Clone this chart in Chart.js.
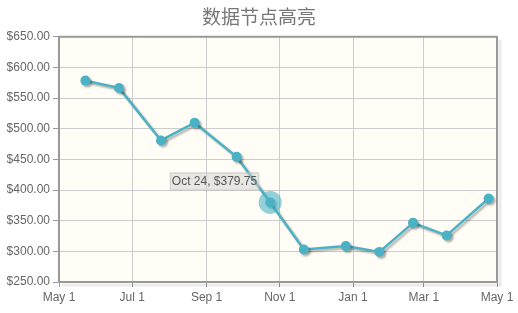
<!DOCTYPE html>
<html>
<head>
<meta charset="utf-8">
<script src="https://cdn.jsdelivr.net/npm/chart.js@4.4.1/dist/chart.umd.min.js"></script>
<style>
  html, body { margin: 0; padding: 0; background: #fff; }
  #wrap { width: 518px; height: 313px; }
</style>
</head>
<body>
<div id="wrap"><canvas id="myChart" width="518" height="313"></canvas></div>
<script>
// data
const dates = ['2008-05-23', '2008-06-20', '2008-07-25', '2008-08-22', '2008-09-26', '2008-10-24',
               '2008-11-21', '2008-12-26', '2009-01-23', '2009-02-20', '2009-03-20', '2009-04-24']
const prices = [578.55, 566.5, 480.88, 509.84, 454.13, 379.75, 303, 308.56, 299.14, 346.51, 325.99, 386.15]
const xTicks = ['2008-05-01', '2008-07-01', '2008-09-01', '2008-11-01', '2009-01-01', '2009-03-01', '2009-05-01']
const highlightIndex = 5

const months = ['Jan','Feb','Mar','Apr','May','Jun','Jul','Aug','Sep','Oct','Nov','Dec']
const toTime = s => Date.parse(s + 'T00:00:00Z')
const fmtDate = v => { const d = new Date(v); return months[d.getUTCMonth()] + ' ' + d.getUTCDate() }
const fmtPrice = v => '$' + v.toFixed(2)

const points = dates.map((d, i) => ({x: toTime(d), y: prices[i]}))
const tickFont = {family: '"Liberation Sans", Arial, sans-serif', size: 12}

// cream plot background + grey frame with a soft shadow
const frame = {
  id: 'frame',
  beforeDraw(chart) {
    const {ctx, chartArea: a} = chart
    ctx.save()
    ctx.fillStyle = '#fffdf6'
    ctx.fillRect(a.left, a.top, a.right - a.left, a.bottom - a.top)
    ctx.restore()
  },
  beforeDatasetsDraw(chart) {
    const {ctx, chartArea: a} = chart
    ctx.save()
    ctx.strokeStyle = 'rgba(0,0,0,0.08)'
    ctx.lineWidth = 3
    ctx.beginPath()
    ctx.moveTo(a.right + 3, a.top + 3)
    ctx.lineTo(a.right + 3, a.bottom + 3)
    ctx.lineTo(a.left + 3, a.bottom + 3)
    ctx.stroke()
    ctx.strokeStyle = '#999'
    ctx.lineWidth = 2
    ctx.strokeRect(a.left, a.top, a.right - a.left, a.bottom - a.top)
    ctx.restore()
  },
  beforeDatasetDraw(chart) {
    const ctx = chart.ctx
    ctx.save()
    ctx.shadowColor = 'rgba(0,0,0,0.3)'
    ctx.shadowOffsetX = 2
    ctx.shadowOffsetY = 2
    ctx.shadowBlur = 2
  },
  afterDatasetDraw(chart) {
    chart.ctx.restore()
  },
  afterDatasetsDraw(chart) {
    const ctx = chart.ctx
    const pt = chart.getDatasetMeta(0).data[highlightIndex]
    const raw = points[highlightIndex]
    ctx.save()
    ctx.fillStyle = 'rgba(75,178,197,0.6)'
    ctx.beginPath()
    ctx.arc(pt.x, pt.y, 11.5, 0, Math.PI * 2)
    ctx.fill()

    const text = fmtDate(raw.x) + ', ' + fmtPrice(raw.y)
    ctx.font = '12px "Liberation Sans", Arial, sans-serif'
    const w = ctx.measureText(text).width + 4
    const h = 18
    const bx = pt.x - 11 - w
    const by = pt.y - 12 - h
    ctx.fillStyle = 'rgba(208,208,208,0.5)'
    ctx.fillRect(bx, by, w, h)
    ctx.strokeStyle = 'rgba(190,190,190,0.6)'
    ctx.lineWidth = 1
    ctx.strokeRect(bx + 0.5, by + 0.5, w - 1, h - 1)
    ctx.fillStyle = '#555'
    ctx.textBaseline = 'middle'
    ctx.fillText(text, bx + 2, by + h / 2 + 0.5)
    ctx.restore()
  }
}

new Chart(document.getElementById('myChart'), {
  type: 'line',
  data: {
    datasets: [{
      data: points,
      borderColor: '#4bb2c5',
      backgroundColor: '#4bb2c5',
      borderWidth: 2.5,
      pointRadius: 5,
      pointBorderWidth: 0,
      tension: 0
    }]
  },
  options: {
    responsive: false,
    animation: false,
    events: [],
    plugins: {
      legend: {display: false},
      tooltip: {enabled: false},
      title: {
        display: true,
        text: '数据节点高亮',
        color: '#777',
        font: {family: '"Noto Sans CJK SC", sans-serif', size: 19, weight: 'normal', lineHeight: 1.2},
        padding: {top: 5, bottom: 9}
      }
    },
    scales: {
      x: {
        type: 'linear',
        min: toTime(xTicks[0]),
        max: toTime(xTicks[xTicks.length - 1]),
        afterBuildTicks: s => { s.ticks = xTicks.map(t => ({value: toTime(t)})) },
        afterFit: s => { s.height = 31; s.paddingRight = 21 },
        ticks: {color: '#666', font: tickFont, padding: 3, maxRotation: 0, autoSkip: false,
                callback: v => fmtDate(v)},
        grid: {color: '#ccc', tickColor: '#999', tickLength: 5},
        border: {display: false}
      },
      y: {
        min: 250,
        max: 650,
        afterFit: s => { s.width = 59 },
        ticks: {stepSize: 50, color: '#666', font: tickFont, padding: 3, callback: v => fmtPrice(v)},
        grid: {color: '#ccc', tickColor: '#999', tickLength: 6},
        border: {display: false}
      }
    }
  },
  plugins: [frame]
})
</script>
</body>
</html>
